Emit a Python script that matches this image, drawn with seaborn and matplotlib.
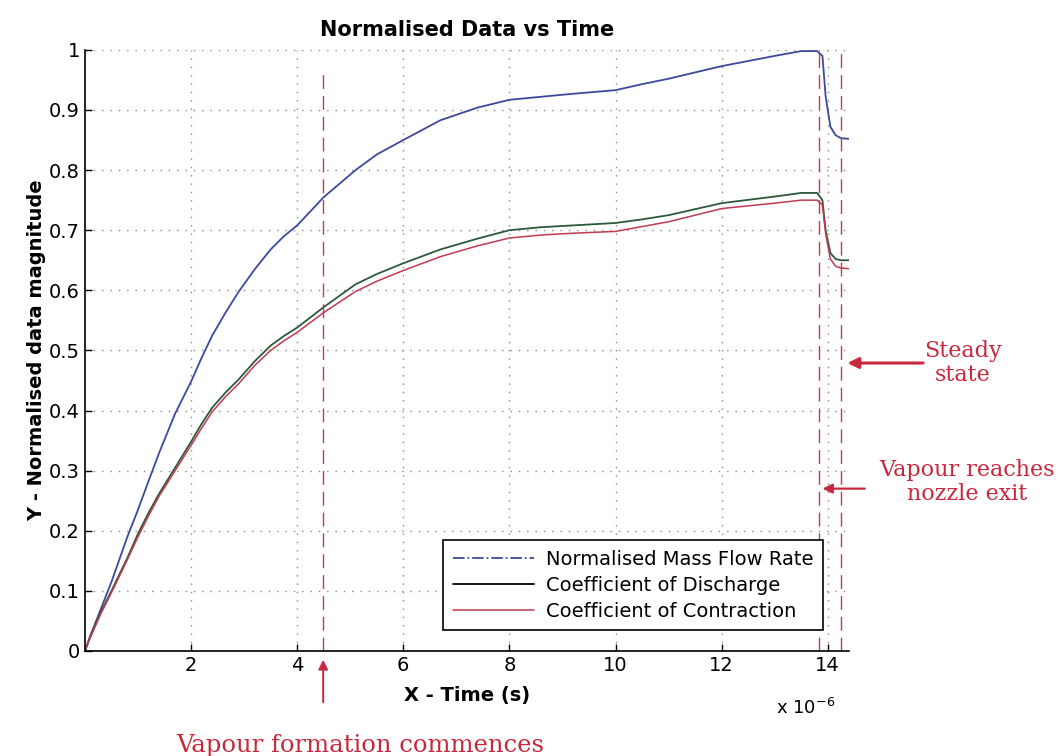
import numpy as np
import pandas as pd
import matplotlib.pyplot as plt
import seaborn as sns
from matplotlib.lines import Line2D

# time in units of 1e-6 s
time_us = [0.0, 0.1, 0.3, 0.5, 0.8, 1.0, 1.2, 1.4, 1.7, 2.0, 2.2, 2.4, 2.65, 2.9,
           3.2, 3.5, 3.75, 4.0, 4.5, 5.1, 5.5, 6.0, 6.7, 7.4, 8.0, 8.6, 9.2, 10.0,
           10.5, 11.0, 12.0, 13.0, 13.5, 13.8, 13.9, 13.96, 14.05, 14.15, 14.25, 14.4]
mass_flow = [0.0, 0.025, 0.07, 0.115, 0.19, 0.235, 0.283, 0.33, 0.395, 0.448, 0.488,
             0.525, 0.563, 0.598, 0.635, 0.668, 0.69, 0.708, 0.755, 0.80, 0.826,
             0.85, 0.883, 0.904, 0.917, 0.922, 0.927, 0.933, 0.943, 0.952, 0.973,
             0.99, 0.998, 0.998, 0.99, 0.923, 0.872, 0.858, 0.853, 0.852]
coef_discharge = [0.0, 0.024, 0.065, 0.10, 0.155, 0.195, 0.23, 0.262, 0.305, 0.348,
                  0.378, 0.405, 0.43, 0.452, 0.482, 0.508, 0.524, 0.538, 0.572, 0.61,
                  0.627, 0.645, 0.668, 0.686, 0.70, 0.705, 0.708, 0.712, 0.718,
                  0.725, 0.745, 0.756, 0.762, 0.762, 0.75, 0.70, 0.662, 0.652, 0.65,
                  0.65]
coef_contraction = [0.0, 0.022, 0.062, 0.097, 0.152, 0.19, 0.225, 0.258, 0.30, 0.342,
                    0.371, 0.398, 0.423, 0.445, 0.475, 0.50, 0.516, 0.53, 0.563,
                    0.598, 0.615, 0.633, 0.656, 0.674, 0.687, 0.692, 0.695, 0.698,
                    0.706, 0.714, 0.736, 0.745, 0.75, 0.75, 0.742, 0.695, 0.652,
                    0.64, 0.637, 0.636]

series_names = ['Normalised Mass Flow Rate', 'Coefficient of Discharge',
                'Coefficient of Contraction']
event_times = [4.49, 13.83, 14.25]

blue = '#3b4a9c'
green = '#2b5a3a'
red = '#c23a50'
note_red = '#c8283c'

sns.set_theme(style='white')
plt.rcParams['font.family'] = ['DejaVu Sans']
plt.rcParams['text.color'] = 'black'
plt.rcParams['axes.labelcolor'] = 'black'

df = pd.DataFrame({'t': time_us, 'mass': mass_flow, 'cd': coef_discharge,
                   'cc': coef_contraction})

fig = plt.figure(figsize=(10.62, 7.56), dpi=100)
ax = fig.add_axes([0.080, 0.139, 0.7194, 0.795])

sns.lineplot(data=df, x='t', y='mass', ax=ax, color=blue, lw=1.3, legend=False)
sns.lineplot(data=df, x='t', y='cd', ax=ax, color=green, lw=1.3, legend=False)
sns.lineplot(data=df, x='t', y='cc', ax=ax, color=red, lw=1.1, legend=False)

ax.axvline(event_times[0], ymin=0, ymax=0.97, color=red, ls=(0, (10, 5)), lw=1.0)
for t in event_times[1:]:
    ax.axvline(t, ymin=0, ymax=1.0, color=red, ls=(0, (10, 5)), lw=1.0)

ax.set_xlim(0, 14.4)
ax.set_ylim(0, 1)
ax.set_xticks(np.arange(2, 15, 2))
ax.set_yticks(np.round(np.arange(0, 1.01, 0.1), 1))
ax.set_yticklabels([f'{v:g}' for v in np.round(np.arange(0, 1.01, 0.1), 1)])
ax.tick_params(direction='in', length=5, width=1, labelsize=14, colors='black',
               left=True, bottom=True)
ax.grid(True, ls=(0, (1, 5)), color='#8a8a8a', lw=1.0)
for s in ['top', 'right']:
    ax.spines[s].set_visible(False)
for s in ['left', 'bottom']:
    ax.spines[s].set_color('black')
    ax.spines[s].set_linewidth(1.2)

ax.set_title('Normalised Data vs Time', fontsize=15, fontweight='bold', pad=10)
ax.set_xlabel('X - Time (s)', fontsize=14, fontweight='bold', labelpad=8)
ax.set_ylabel('Y - Normalised data magnitude', fontsize=14, fontweight='bold',
              labelpad=2)
ax.text(0.982, -0.095, r'x 10$^{-6}$', transform=ax.transAxes, fontsize=13,
        ha='right', va='center')

handles = [Line2D([], [], color=blue, ls='-.', lw=1.3),
           Line2D([], [], color='black', lw=1.3),
           Line2D([], [], color=red, lw=1.1)]
leg = ax.legend(handles, series_names, loc='lower right',
                bbox_to_anchor=(0.979, 0.018), fontsize=14, handlelength=4.2,
                frameon=True, fancybox=False, framealpha=1, borderpad=0.5,
                labelspacing=0.35, handletextpad=0.6)
leg.get_frame().set_edgecolor('black')
leg.get_frame().set_linewidth(1.2)

serif = ['DejaVu Serif']
ax.annotate('', xy=(event_times[0], -0.01), xytext=(event_times[0], -0.09),
            arrowprops=dict(arrowstyle='-|>', color=note_red, lw=1.4,
                            mutation_scale=14), annotation_clip=False)
ax.text(5.18, -0.158, 'Vapour formation commences', color=note_red, fontsize=17.5,
        family=serif, ha='center', va='center', clip_on=False)

ax.annotate('', xy=(14.32, 0.479), xytext=(15.85, 0.479),
            arrowprops=dict(arrowstyle='-|>', color=note_red, lw=2.2,
                            mutation_scale=16), annotation_clip=False)
ax.text(16.55, 0.479, 'Steady\nstate', color=note_red, fontsize=16,
        family=serif, ha='center', va='center', linespacing=1.1, clip_on=False)

ax.annotate('', xy=(13.85, 0.27), xytext=(14.75, 0.27),
            arrowprops=dict(arrowstyle='-|>', color=note_red, lw=1.6,
                            mutation_scale=14), annotation_clip=False)
ax.text(16.62, 0.281, 'Vapour reaches\nnozzle exit', color=note_red, fontsize=16,
        family=serif, ha='center', va='center', linespacing=1.1, clip_on=False)

fig.savefig('out.png', dpi=100)
